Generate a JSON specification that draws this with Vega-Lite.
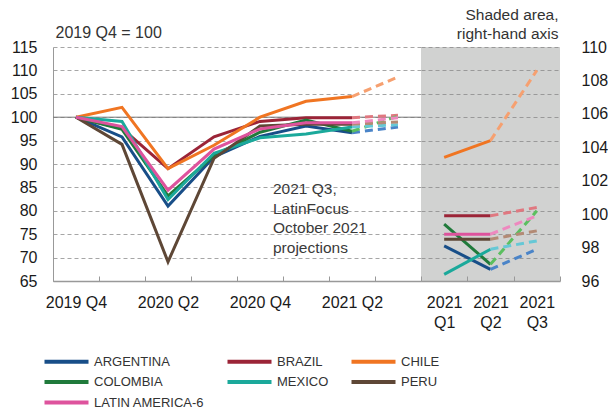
{
  "$schema": "https://vega.github.io/schema/vega-lite/v6.json",
  "autosize": {"type": "pad"},
  "padding": {"left": 10, "top": 7, "right": 0, "bottom": 0},
  "background": "white",
  "bounds": "flush",
  "spacing": 0,
  "config": {
    "view": {"stroke": null},
    "font": "Liberation Sans"
  },
  "datasets": {
    "lhs": [
      {"country": "ARGENTINA", "quarter": "2019 Q4", "value": 100},
      {"country": "ARGENTINA", "quarter": "2020 Q1", "value": 95.8},
      {"country": "ARGENTINA", "quarter": "2020 Q2", "value": 81.0},
      {"country": "ARGENTINA", "quarter": "2020 Q3", "value": 91.5},
      {"country": "ARGENTINA", "quarter": "2020 Q4", "value": 95.9},
      {"country": "ARGENTINA", "quarter": "2021 Q1", "value": 98.1},
      {"country": "ARGENTINA", "quarter": "2021 Q2", "value": 96.7},
      {"country": "ARGENTINA", "quarter": "2021 Q3", "value": 97.9},
      {"country": "BRAZIL", "quarter": "2019 Q4", "value": 100},
      {"country": "BRAZIL", "quarter": "2020 Q1", "value": 97.6},
      {"country": "BRAZIL", "quarter": "2020 Q2", "value": 89.0},
      {"country": "BRAZIL", "quarter": "2020 Q3", "value": 95.8},
      {"country": "BRAZIL", "quarter": "2020 Q4", "value": 99.1},
      {"country": "BRAZIL", "quarter": "2021 Q1", "value": 99.9},
      {"country": "BRAZIL", "quarter": "2021 Q2", "value": 99.9},
      {"country": "BRAZIL", "quarter": "2021 Q3", "value": 100.4},
      {"country": "CHILE", "quarter": "2019 Q4", "value": 100},
      {"country": "CHILE", "quarter": "2020 Q1", "value": 102.1},
      {"country": "CHILE", "quarter": "2020 Q2", "value": 89.0},
      {"country": "CHILE", "quarter": "2020 Q3", "value": 94.0},
      {"country": "CHILE", "quarter": "2020 Q4", "value": 100.0},
      {"country": "CHILE", "quarter": "2021 Q1", "value": 103.4},
      {"country": "CHILE", "quarter": "2021 Q2", "value": 104.4},
      {"country": "CHILE", "quarter": "2021 Q3", "value": 108.6},
      {"country": "COLOMBIA", "quarter": "2019 Q4", "value": 100},
      {"country": "COLOMBIA", "quarter": "2020 Q1", "value": 97.4},
      {"country": "COLOMBIA", "quarter": "2020 Q2", "value": 83.2},
      {"country": "COLOMBIA", "quarter": "2020 Q3", "value": 91.8},
      {"country": "COLOMBIA", "quarter": "2020 Q4", "value": 96.8},
      {"country": "COLOMBIA", "quarter": "2021 Q1", "value": 99.4},
      {"country": "COLOMBIA", "quarter": "2021 Q2", "value": 97.0},
      {"country": "COLOMBIA", "quarter": "2021 Q3", "value": 100.2},
      {"country": "MEXICO", "quarter": "2019 Q4", "value": 100},
      {"country": "MEXICO", "quarter": "2020 Q1", "value": 99.1},
      {"country": "MEXICO", "quarter": "2020 Q2", "value": 82.4},
      {"country": "MEXICO", "quarter": "2020 Q3", "value": 92.3},
      {"country": "MEXICO", "quarter": "2020 Q4", "value": 95.6},
      {"country": "MEXICO", "quarter": "2021 Q1", "value": 96.4},
      {"country": "MEXICO", "quarter": "2021 Q2", "value": 97.9},
      {"country": "MEXICO", "quarter": "2021 Q3", "value": 98.4},
      {"country": "PERU", "quarter": "2019 Q4", "value": 100},
      {"country": "PERU", "quarter": "2020 Q1", "value": 94.2},
      {"country": "PERU", "quarter": "2020 Q2", "value": 69.1},
      {"country": "PERU", "quarter": "2020 Q3", "value": 91.2},
      {"country": "PERU", "quarter": "2020 Q4", "value": 98.1},
      {"country": "PERU", "quarter": "2021 Q1", "value": 98.5},
      {"country": "PERU", "quarter": "2021 Q2", "value": 98.5},
      {"country": "PERU", "quarter": "2021 Q3", "value": 99.0},
      {"country": "LATIN AMERICA-6", "quarter": "2019 Q4", "value": 100},
      {"country": "LATIN AMERICA-6", "quarter": "2020 Q1", "value": 98.0},
      {"country": "LATIN AMERICA-6", "quarter": "2020 Q2", "value": 84.4},
      {"country": "LATIN AMERICA-6", "quarter": "2020 Q3", "value": 93.2},
      {"country": "LATIN AMERICA-6", "quarter": "2020 Q4", "value": 97.5},
      {"country": "LATIN AMERICA-6", "quarter": "2021 Q1", "value": 98.8},
      {"country": "LATIN AMERICA-6", "quarter": "2021 Q2", "value": 98.8},
      {"country": "LATIN AMERICA-6", "quarter": "2021 Q3", "value": 99.9}
    ],
    "rhs": [
      {"country": "ARGENTINA", "quarter": "2021 Q1", "value": 98.1},
      {"country": "ARGENTINA", "quarter": "2021 Q2", "value": 96.7},
      {"country": "ARGENTINA", "quarter": "2021 Q3", "value": 97.9},
      {"country": "BRAZIL", "quarter": "2021 Q1", "value": 99.9},
      {"country": "BRAZIL", "quarter": "2021 Q2", "value": 99.9},
      {"country": "BRAZIL", "quarter": "2021 Q3", "value": 100.4},
      {"country": "CHILE", "quarter": "2021 Q1", "value": 103.4},
      {"country": "CHILE", "quarter": "2021 Q2", "value": 104.4},
      {"country": "CHILE", "quarter": "2021 Q3", "value": 108.6},
      {"country": "COLOMBIA", "quarter": "2021 Q1", "value": 99.4},
      {"country": "COLOMBIA", "quarter": "2021 Q2", "value": 97.0},
      {"country": "COLOMBIA", "quarter": "2021 Q3", "value": 100.2},
      {"country": "MEXICO", "quarter": "2021 Q1", "value": 96.4},
      {"country": "MEXICO", "quarter": "2021 Q2", "value": 97.9},
      {"country": "MEXICO", "quarter": "2021 Q3", "value": 98.4},
      {"country": "PERU", "quarter": "2021 Q1", "value": 98.5},
      {"country": "PERU", "quarter": "2021 Q2", "value": 98.5},
      {"country": "PERU", "quarter": "2021 Q3", "value": 99.0},
      {"country": "LATIN AMERICA-6", "quarter": "2021 Q1", "value": 98.8},
      {"country": "LATIN AMERICA-6", "quarter": "2021 Q2", "value": 98.8},
      {"country": "LATIN AMERICA-6", "quarter": "2021 Q3", "value": 99.9}
    ]
  },
  "hconcat": [
    {
      "width": 368,
      "height": 234,
      "data": {"name": "lhs"},
      "layer": [
        {
          "data": {"values": [{"ref": 100}]},
          "mark": {"type": "rule", "color": "#777777", "strokeWidth": 1},
          "encoding": {
            "y": {"field": "ref", "type": "quantitative"}
          }
        },
        {
          "transform": [{"filter": "datum.quarter != '2021 Q3'"}],
          "mark": {"type": "line", "strokeWidth": 3},
          "encoding": {
            "x": {
              "field": "quarter", "type": "ordinal",
              "scale": {
                "type": "band", "paddingInner": 0, "paddingOuter": 0,
                "domain": ["2019 Q4", "2020 Q1", "2020 Q2", "2020 Q3", "2020 Q4", "2021 Q1", "2021 Q2", "2021 Q3"]
              },
              "axis": {
                "title": null,
                "tickBand": "extent",
                "tickSize": -5,
                "tickColor": "#999999",
                "domainColor": "#999999",
                "domainWidth": 1.5,
                "labelAngle": 0,
                "labelFont": "Liberation Sans",
                "labelFontSize": 16,
                "labelColor": "#1a1a1a",
                "labelPadding": 18,
                "labelBaseline": "top",
                "labelExpr": "isValid(datum.value) && (datum.value == '2019 Q4' || datum.value == '2020 Q2' || datum.value == '2020 Q4' || datum.value == '2021 Q2') ? datum.value : ''"
              }
            },
            "y": {
              "field": "value", "type": "quantitative",
              "scale": {"domain": [65, 115], "nice": false, "zero": false},
              "axis": {
                "orient": "left",
                "values": [65, 70, 75, 80, 85, 90, 95, 100, 105, 110, 115],
                "tickCount": 11,
                "labelOverlap": false,
                "grid": true,
                "gridDash": [4, 3],
                "gridColor": "#a6a6a6",
                "gridWidth": 1,
                "domain": true,
                "domainColor": "#999999",
                "ticks": false,
                "labelPadding": 16,
                "labelFont": "Liberation Sans",
                "labelFontSize": 16,
                "labelColor": "#1a1a1a",
                "title": "2019 Q4 = 100",
                "titleAngle": 0,
                "titleAlign": "left",
                "titleBaseline": "bottom",
                "titleX": 2,
                "titleY": -7,
                "titleFont": "Liberation Sans",
                "titleFontSize": 16,
                "titleFontWeight": "normal",
                "titleColor": "#333333"
              }
            },
            "color": {
              "field": "country", "type": "nominal",
              "scale": {
                "domain": ["ARGENTINA", "BRAZIL", "CHILE", "COLOMBIA", "MEXICO", "PERU", "LATIN AMERICA-6"],
                "range": ["#184e88", "#9b2437", "#f07522", "#207a3b", "#1ba99b", "#5e4736", "#de539d"]
              },
              "legend": {
                "title": null,
                "orient": "none",
                "direction": "horizontal",
                "legendX": 7,
                "legendY": 308,
                "columns": 3,
                "symbolType": "M-11,0H11",
                "symbolSize": 16,
                "symbolStrokeWidth": 4,
                "labelOffset": 21,
                "labelFont": "Liberation Sans",
                "labelFontSize": 13,
                "labelColor": "#333333",
                "columnPadding": 14,
                "rowPadding": 3.5
              }
            }
          }
        },
        {
          "transform": [{"filter": "datum.quarter == '2021 Q2' || datum.quarter == '2021 Q3'"}],
          "mark": {"type": "line", "strokeWidth": 3, "strokeDash": [8, 5]},
          "encoding": {
            "x": {"field": "quarter", "type": "ordinal"},
            "y": {"field": "value", "type": "quantitative"},
            "stroke": {
              "field": "country", "type": "nominal",
              "scale": {
                "domain": ["ARGENTINA", "BRAZIL", "CHILE", "COLOMBIA", "MEXICO", "PERU", "LATIN AMERICA-6"],
                "range": ["#4a84c8", "#e07880", "#f6a070", "#5bbf5f", "#66c8d6", "#b38a74", "#ee88bf"]
              },
              "legend": null
            }
          }
        },
        {
          "data": {"values": [{"q": "2020 Q4", "v": 84.6}]},
          "mark": {
            "type": "text",
            "text": ["2021 Q3,", "LatinFocus", "October 2021", "projections"],
            "align": "left",
            "baseline": "middle",
            "dx": 13,
            "lineHeight": 19.5,
            "font": "Liberation Sans",
            "fontSize": 15.5,
            "color": "#3a3a3a"
          },
          "encoding": {
            "x": {"field": "q", "type": "ordinal"},
            "y": {"field": "v", "type": "quantitative"}
          }
        }
      ]
    },
    {
      "width": 139,
      "height": 234,
      "data": {"name": "rhs"},
      "view": {"fill": "#d1d2d1", "stroke": null},
      "resolve": {"scale": {"y": "independent"}},
      "layer": [
        {
          "transform": [{"filter": "datum.quarter != '2021 Q3'"}],
          "mark": {"type": "line", "strokeWidth": 3},
          "encoding": {
            "x": {
              "field": "quarter", "type": "ordinal",
              "scale": {"type": "band", "paddingInner": 0, "paddingOuter": 0, "domain": ["2021 Q1", "2021 Q2", "2021 Q3"]},
              "axis": {
                "title": null,
                "tickBand": "extent",
                "tickSize": -5,
                "tickColor": "#999999",
                "domainColor": "#999999",
                "domainWidth": 1.5,
                "labelAngle": 0,
                "labelFont": "Liberation Sans",
                "labelFontSize": 16,
                "labelColor": "#1a1a1a",
                "labelPadding": 18,
                "labelBaseline": "top",
                "labelLineHeight": 20,
                "labelExpr": "isValid(datum.value) ? split(datum.value, ' ') : ''"
              }
            },
            "y": {
              "field": "value", "type": "quantitative",
              "scale": {"domain": [96, 110], "nice": false, "zero": false},
              "axis": {
                "orient": "right",
                "values": [96, 98, 100, 102, 104, 106, 108, 110],
                "tickCount": 8,
                "labelOverlap": false,
                "grid": false,
                "domain": false,
                "ticks": false,
                "labelPadding": 21,
                "labelFont": "Liberation Sans",
                "labelFontSize": 16,
                "labelColor": "#1a1a1a",
                "title": ["Shaded area,", "right-hand axis"],
                "titleAngle": 0,
                "titleAlign": "right",
                "titleBaseline": "bottom",
                "titleX": -2,
                "titleY": -25,
                "titleLineHeight": 19,
                "titleFont": "Liberation Sans",
                "titleFontSize": 15.5,
                "titleFontWeight": "normal",
                "titleColor": "#333333"
              }
            },
            "color": {
              "field": "country", "type": "nominal",
              "scale": {"domain": ["ARGENTINA", "BRAZIL", "CHILE", "COLOMBIA", "MEXICO", "PERU", "LATIN AMERICA-6"]}
            }
          }
        },
        {
          "transform": [{"filter": "datum.quarter == '2021 Q2' || datum.quarter == '2021 Q3'"}],
          "mark": {"type": "line", "strokeWidth": 3, "strokeDash": [8, 5]},
          "encoding": {
            "x": {"field": "quarter", "type": "ordinal"},
            "y": {
              "field": "value", "type": "quantitative",
              "scale": {"domain": [96, 110], "nice": false, "zero": false},
              "axis": {
                "orient": "left",
                "values": [97.4, 98.8, 100.2, 101.6, 103, 104.4, 105.8, 107.2, 108.6, 110],
                "tickCount": 10,
                "grid": true,
                "gridDash": [4, 3],
                "gridColor": "#999999",
                "gridWidth": 1,
                "domain": false,
                "ticks": false,
                "labels": false,
                "title": null
              }
            },
            "stroke": {
              "field": "country", "type": "nominal",
              "scale": {"domain": ["ARGENTINA", "BRAZIL", "CHILE", "COLOMBIA", "MEXICO", "PERU", "LATIN AMERICA-6"]},
              "legend": null
            }
          }
        }
      ]
    }
  ]
}
